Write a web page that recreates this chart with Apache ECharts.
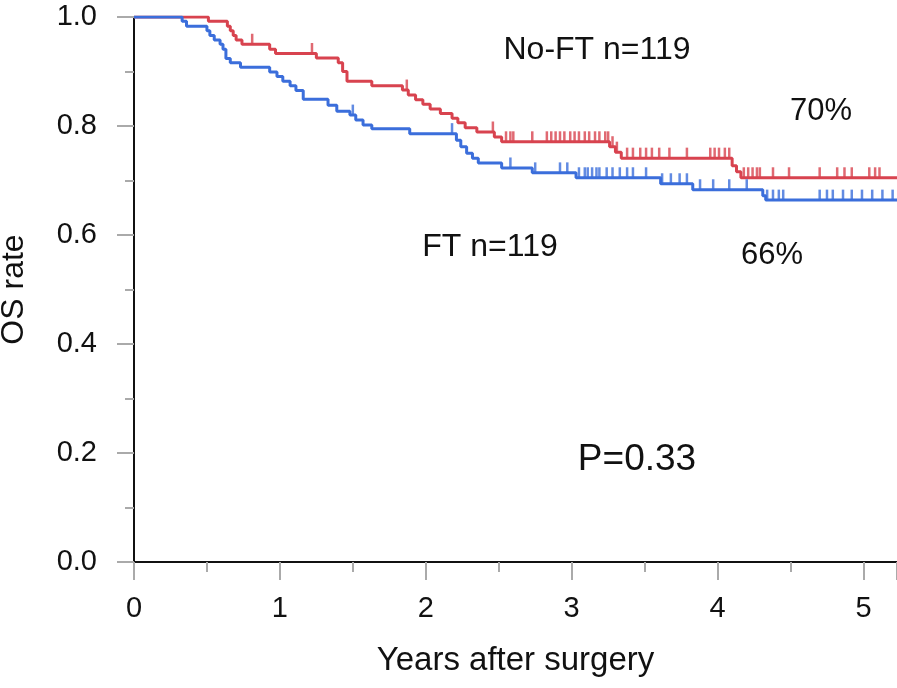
<!DOCTYPE html>
<html>
<head>
<meta charset="utf-8">
<script src="https://cdn.jsdelivr.net/npm/echarts@6/dist/echarts.min.js"></script>
<style>
html,body{margin:0;padding:0;background:#fff;}
#chart{width:897px;height:688px;}
</style>
</head>
<body>
<div id="chart"></div>
<script>
// No-FT (red) Kaplan-Meier steps
const redTimes = [0, 0.51, 0.64, 0.66, 0.68, 0.70, 0.74, 0.93, 0.97, 1.25, 1.40, 1.43, 1.46, 1.63, 1.84, 1.88, 1.93, 1.98, 2.03, 2.10, 2.18, 2.22, 2.27, 2.35, 2.47, 2.52, 3.26, 3.30, 3.34, 4.10, 4.13, 4.16, 5.30];
const redSurv  = [1.000, 0.992, 0.983, 0.975, 0.966, 0.958, 0.950, 0.941, 0.933, 0.925, 0.916, 0.900, 0.882, 0.874, 0.866, 0.857, 0.848, 0.840, 0.831, 0.823, 0.814, 0.806, 0.797, 0.789, 0.780, 0.771, 0.762, 0.752, 0.741, 0.727, 0.716, 0.705, 0.705];
const redCensor = [0.81, 1.22, 1.87, 2.46, 2.55, 2.58, 2.60, 2.73, 2.83, 2.86, 2.89, 2.92, 2.95, 2.99, 3.02, 3.05, 3.09, 3.12, 3.16, 3.19, 3.23, 3.25, 3.28, 3.31, 3.38, 3.42, 3.47, 3.51, 3.55, 3.60, 3.67, 3.79, 3.95, 3.98, 4.01, 4.05, 4.08, 4.18, 4.21, 4.24, 4.27, 4.29, 4.38, 4.49, 4.70, 4.82, 4.87, 4.92, 5.04, 5.08, 5.11];

// FT (blue) Kaplan-Meier steps
const blueTimes = [0, 0.33, 0.36, 0.50, 0.52, 0.55, 0.59, 0.61, 0.63, 0.66, 0.73, 0.93, 0.98, 1.02, 1.07, 1.11, 1.16, 1.33, 1.39, 1.48, 1.52, 1.57, 1.63, 1.89, 2.21, 2.24, 2.28, 2.32, 2.36, 2.52, 2.73, 3.03, 3.61, 3.83, 4.31, 4.33, 5.30];
const blueSurv  = [1.000, 0.992, 0.983, 0.975, 0.966, 0.958, 0.950, 0.941, 0.924, 0.916, 0.908, 0.899, 0.891, 0.882, 0.874, 0.865, 0.849, 0.838, 0.827, 0.820, 0.811, 0.802, 0.795, 0.786, 0.774, 0.762, 0.750, 0.741, 0.732, 0.723, 0.714, 0.705, 0.694, 0.683, 0.672, 0.664, 0.664];
const blueCensor = [1.50, 2.18, 2.58, 2.75, 2.92, 2.97, 3.05, 3.09, 3.11, 3.14, 3.17, 3.19, 3.24, 3.28, 3.33, 3.38, 3.42, 3.51, 3.62, 3.68, 3.74, 3.79, 3.88, 3.97, 4.08, 4.20, 4.34, 4.38, 4.42, 4.45, 4.70, 4.75, 4.79, 4.86, 4.92, 4.99, 5.06, 5.13, 5.20];

const xTickLabels = ['0', '1', '2', '3', '4', '5'];
const yTickLabels = ['0.0', '0.2', '0.4', '0.6', '0.8', '1.0'];

const labels = {
  noft: 'No-FT n=119', noftPct: '70%',
  ft: 'FT n=119', ftPct: '66%',
  p: 'P=0.33',
  xName: 'Years after surgery', yName: 'OS rate'
};

function survAt(times, surv, t) {
  let v = surv[0];
  for (let i = 0; i < times.length; i++) { if (times[i] <= t) v = surv[i]; else break; }
  return v;
}
const pairs = (a, b) => a.map((t, i) => [t, b[i]]);
const censorPts = (c, times, surv) => c.map(t => [t, survAt(times, surv, t)]);

const RED = '#d8434f', BLUE = '#3b6edb';
const FONT = '"Liberation Sans", Arial, sans-serif';

const chart = echarts.init(document.getElementById('chart'), null, {renderer: 'canvas'});
chart.setOption({
  animation: false,
  backgroundColor: '#fff',
  grid: {left: 134, right: 0, top: 17, bottom: 126, containLabel: false, outerBoundsMode: 'none'},
  xAxis: {
    type: 'value', min: 0, max: 5.23, interval: 1,
    axisLine: {show: true, lineStyle: {color: '#111', width: 2}},
    axisTick: {show: true, length: 18, lineStyle: {color: '#aaa', width: 2}},
    minorTick: {show: true, splitNumber: 2, length: 10, lineStyle: {color: '#aaa', width: 2}},
    splitLine: {show: false},
    axisLabel: {
      margin: 32, fontSize: 29, color: '#111', fontFamily: FONT,
      formatter: v => { const i = Math.round(v); return Math.abs(v - i) < 1e-6 && xTickLabels[i] !== undefined ? xTickLabels[i] : ''; }
    },
    name: labels.xName, nameLocation: 'middle', nameGap: 82,
    nameTextStyle: {fontSize: 33, color: '#111', fontFamily: FONT}
  },
  yAxis: {
    type: 'value', min: 0, max: 1, interval: 0.2,
    axisLine: {show: true, lineStyle: {color: '#111', width: 2}},
    axisTick: {show: true, length: 17, lineStyle: {color: '#aaa', width: 2}},
    minorTick: {show: true, splitNumber: 2, length: 9, lineStyle: {color: '#aaa', width: 2}},
    splitLine: {show: false},
    axisLabel: {
      margin: 37, fontSize: 29, color: '#111', fontFamily: FONT,
      formatter: v => { const i = Math.round(v * 5); return yTickLabels[i] !== undefined ? yTickLabels[i] : ''; }
    },
    name: labels.yName, nameLocation: 'middle', nameGap: 104, nameRotate: 90,
    nameTextStyle: {fontSize: 32, color: '#111', fontFamily: FONT}
  },
  series: [
    {type: 'line', step: 'end', data: pairs(redTimes, redSurv), showSymbol: false, symbol: 'none',
      lineStyle: {color: RED, width: 3}, z: 2},
    {type: 'line', step: 'end', data: pairs(blueTimes, blueSurv), showSymbol: false, symbol: 'none',
      lineStyle: {color: BLUE, width: 3}, z: 3},
    {type: 'scatter', data: censorPts(redCensor, redTimes, redSurv), symbol: 'rect',
      symbolSize: [2.5, 11], symbolOffset: [0, -5], itemStyle: {color: RED}, silent: true, z: 4},
    {type: 'scatter', data: censorPts(blueCensor, blueTimes, blueSurv), symbol: 'rect',
      symbolSize: [2.5, 11], symbolOffset: [0, -5], itemStyle: {color: BLUE}, silent: true, z: 4}
  ],
  graphic: [
    {type: 'text', x: 597, y: 50, style: {text: labels.noft, font: '32px ' + FONT, fill: '#111', align: 'center', verticalAlign: 'middle'}},
    {type: 'text', x: 821, y: 111, style: {text: labels.noftPct, font: '31px ' + FONT, fill: '#111', align: 'center', verticalAlign: 'middle'}},
    {type: 'text', x: 490, y: 247, style: {text: labels.ft, font: '32px ' + FONT, fill: '#111', align: 'center', verticalAlign: 'middle'}},
    {type: 'text', x: 772, y: 255, style: {text: labels.ftPct, font: '31px ' + FONT, fill: '#111', align: 'center', verticalAlign: 'middle'}},
    {type: 'text', x: 637, y: 460, style: {text: labels.p, font: '37px ' + FONT, fill: '#111', align: 'center', verticalAlign: 'middle'}}
  ]
});
</script>
</body>
</html>
